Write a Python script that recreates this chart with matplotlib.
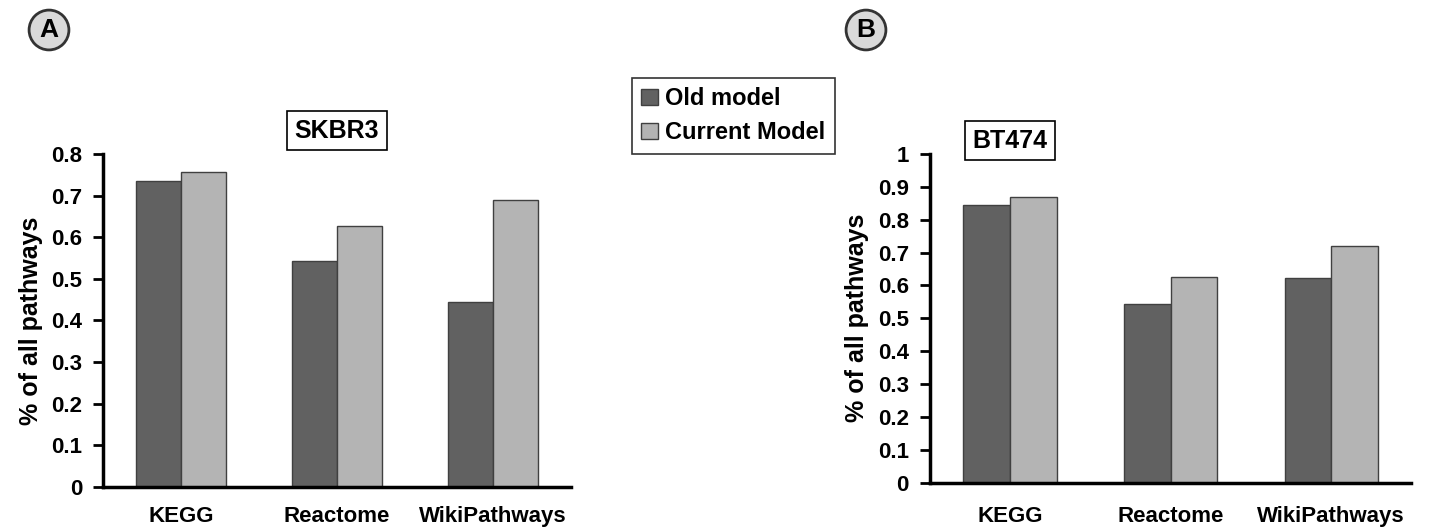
import numpy as np
from matplotlib import pyplot as plt

categories = ['KEGG', 'Reactome', 'WikiPathways']
skbr3_old = [0.735, 0.543, 0.445]
skbr3_current = [0.757, 0.627, 0.690]
bt474_old = [0.845, 0.543, 0.623]
bt474_current = [0.868, 0.625, 0.720]
series_labels = ['Old model', 'Current Model']

plt.rcParams['font.family'] = ['Liberation Sans', 'DejaVu Sans']
plt.rcParams['font.weight'] = 'bold'

old_color = '#616161'
cur_color = '#b4b4b4'
edge_color = '#404040'


def draw_panel(ax, old, cur, title, title_pos, ymax, xpad):
    x = np.arange(len(categories))
    w = 0.29
    b1 = ax.bar(x - w / 2, old, w, color=old_color, edgecolor=edge_color, linewidth=1.0)
    b2 = ax.bar(x + w / 2, cur, w, color=cur_color, edgecolor=edge_color, linewidth=1.0)
    ax.set_xlim(-0.5, 2.5)
    ax.set_ylim(0, ymax)
    ticks = np.round(np.arange(0, ymax + 1e-9, 0.1), 2)
    ax.set_yticks(ticks)
    ax.set_yticklabels(['0' if t == 0 else ('1' if t == 1 else f'{t:.1f}') for t in ticks])
    ax.set_xticks(x)
    ax.set_xticklabels(categories, fontsize=16, fontweight='bold')
    ax.tick_params(axis='x', length=0, pad=xpad)
    ax.tick_params(axis='y', direction='out', length=7, width=2, labelsize=16, pad=8)
    for s in ['top', 'right']:
        ax.spines[s].set_visible(False)
    for s in ['left', 'bottom']:
        ax.spines[s].set_linewidth(2.5)
    ax.set_ylabel('% of all pathways', fontsize=18, fontweight='bold', labelpad=6)
    ax.text(title_pos[0], title_pos[1], title, transform=ax.transAxes, ha='center', va='center',
            fontsize=18, fontweight='bold',
            bbox=dict(boxstyle='square,pad=0.3', facecolor='white', edgecolor='black', linewidth=1.2))
    return b1, b2


fig = plt.figure(figsize=(14.55, 5.27), dpi=100)
ax1 = fig.add_axes([0.0708, 0.0759, 0.3216, 0.632])
ax2 = fig.add_axes([0.639, 0.084, 0.331, 0.624])

b1, b2 = draw_panel(ax1, skbr3_old, skbr3_current, 'SKBR3', (0.5, 1.07), 0.8, 14)
draw_panel(ax2, bt474_old, bt474_current, 'BT474', (0.166, 1.04), 1.0, 17)

leg = fig.legend([b1, b2], series_labels, loc='upper left',
                 bbox_to_anchor=(632 / 1455, 1 - 78 / 527),
                 prop={'size': 17, 'weight': 'bold'}, fancybox=False,
                 handlelength=0.7, handleheight=0.7, handletextpad=0.3,
                 borderpad=0.4, labelspacing=0.45, borderaxespad=0)
leg.get_frame().set_edgecolor('black')
leg.get_frame().set_linewidth(1.2)

for lbl, xp in [('A', 49 / 1455), ('B', 866 / 1455)]:
    fig.text(xp, 1 - 30 / 527, lbl, ha='center', va='center', fontsize=19, fontweight='bold',
             bbox=dict(boxstyle='circle,pad=0.3', facecolor='#d9d9d9', edgecolor='#333333', linewidth=2))

fig.savefig('out.png', dpi=100)
